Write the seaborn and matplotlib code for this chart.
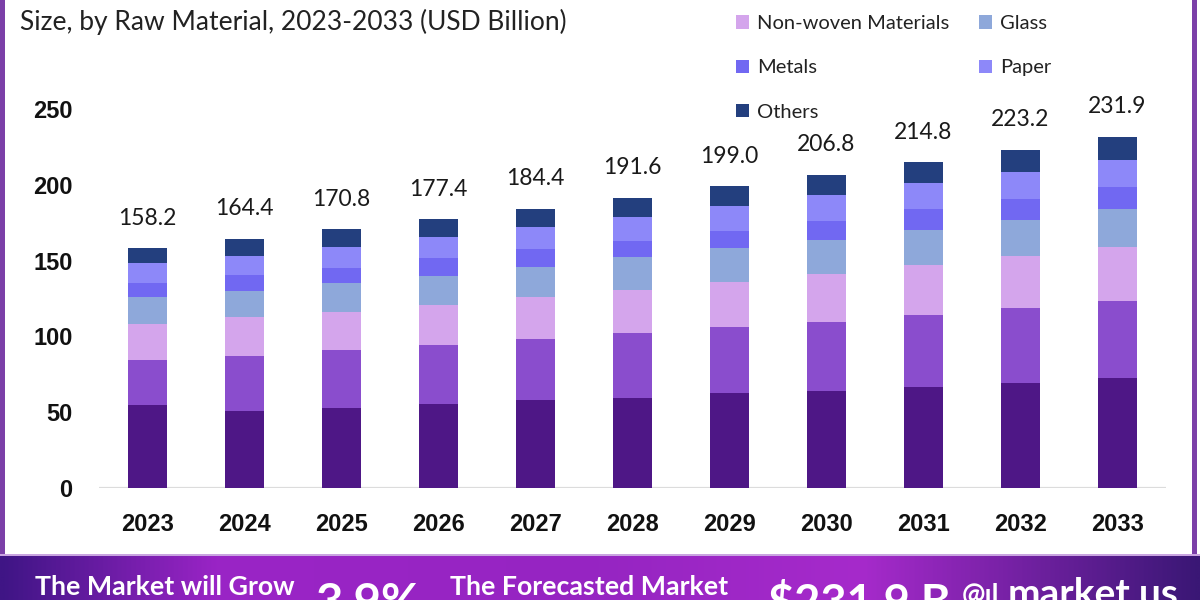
import numpy as np
import pandas as pd
import matplotlib
matplotlib.use("Agg")
import matplotlib.pyplot as plt
import seaborn as sns
from matplotlib.patches import Rectangle
from matplotlib.colors import LinearSegmentedColormap

# ---------------- data ----------------
years = ["2023", "2024", "2025", "2026", "2027", "2028", "2029", "2030", "2031", "2032", "2033"]
totals = [158.2, 164.4, 170.8, 177.4, 184.4, 191.6, 199.0, 206.8, 214.8, 223.2, 231.9]

plastics = [54.8, 51.0, 53.0, 55.2, 58.1, 59.6, 62.5, 64.2, 66.9, 69.5, 72.8]
paperboard = [29.7, 36.3, 38.1, 39.2, 40.1, 42.5, 43.6, 45.6, 47.3, 49.5, 50.6]
nonwoven = [23.8, 25.4, 25.3, 26.4, 28.1, 28.6, 30.1, 31.5, 33.0, 34.1, 35.5]
glass = [18.0, 17.3, 18.7, 19.3, 19.8, 21.6, 22.0, 22.4, 23.1, 23.8, 25.1]
metals = [8.8, 10.6, 10.3, 11.5, 11.5, 10.9, 11.6, 12.7, 13.7, 13.7, 14.5]
paper = [13.2, 12.7, 13.9, 14.3, 14.9, 15.9, 16.3, 17.0, 17.1, 18.2, 18.0]
others = [9.9, 11.1, 11.5, 11.5, 11.9, 12.5, 12.9, 13.4, 13.7, 14.4, 15.4]

series_names = ["Plastics", "Paperboard", "Non-woven Materials", "Glass", "Metals", "Paper", "Others"]
series_values = [plastics, paperboard, nonwoven, glass, metals, paper, others]
series_colors = ["#4e1786", "#8a4dcd", "#d4a5ec", "#8ea8da", "#7168f2", "#8d88f9", "#233f7e"]

title_text = "Size, by Raw Material, 2023-2033 (USD Billion)"
yticks = [0, 50, 100, 150, 200, 250]

# ---------------- style ----------------
sns.set_style("white")
plt.rcParams["font.family"] = ["Lato", "DejaVu Sans"]

W, H = 1200, 600
fig = plt.figure(figsize=(12, 6), dpi=100)
fig.patch.set_facecolor("white")

ax = fig.add_axes([99 / W, 112 / H, 1067 / W, 394 / H])
ax.set_facecolor("white")

bottom = np.zeros(len(years))
handles = {}
for name, vals, col in zip(series_names, series_values, series_colors):
    sns.barplot(x=years, y=vals, bottom=bottom.copy(), color=col, width=0.4,
                saturation=1, errorbar=None, ax=ax, label=name, linewidth=0)
    handles[name] = ax.containers[-1]
    bottom = bottom + np.array(vals)
if ax.get_legend() is not None:
    ax.get_legend().remove()

ax.set_xlim(-0.5, len(years) - 0.5)
ax.set_ylim(0, 260)
ax.set_yticks(yticks)
ax.set_yticklabels([str(t) for t in yticks])
for s in ax.spines.values():
    s.set_visible(False)
ax.axhline(0, color="#dcdcdc", lw=1.6, zorder=0.5)
ax.tick_params(axis="both", length=0)
ax.tick_params(axis="y", pad=19)
ax.tick_params(axis="x", pad=18)
for lab in ax.get_yticklabels() + ax.get_xticklabels():
    lab.set_fontfamily(["Liberation Sans", "DejaVu Sans"])
    lab.set_fontweight("bold")
    lab.set_fontsize(17)
    lab.set_color("#111111")
ax.set_xlabel("")
ax.set_ylabel("")
ax.grid(False)

for i, t in enumerate(totals):
    ax.annotate(f"{t:.1f}", xy=(i, t), xytext=(0, 14), textcoords="offset points",
                ha="center", va="bottom", fontsize=16.5, color="#1a1a1a")

# title (cropped header)
fig.text(20 / W, 1 - 22 / H, title_text, ha="left", va="center", fontsize=19, color="#222222")

# legend (visible entries)
leg_order = ["Non-woven Materials", "Metals", "Others", "Glass", "Paper"]
leg = fig.legend([handles[n] for n in leg_order], leg_order, loc="upper left",
                 bbox_to_anchor=(736 / W, 1 - 15 / H), ncol=2, frameon=False,
                 fontsize=14.5, handlelength=0.65, handleheight=0.65, handletextpad=0.4,
                 labelspacing=1.36, columnspacing=1.45, borderpad=0, borderaxespad=0)
for t in leg.get_texts():
    t.set_color("#222222")

# frame borders
fig.add_artist(Rectangle((0, 45 / H), 5 / W, 1 - 45 / H, transform=fig.transFigure,
                         facecolor="#7b3fa8", edgecolor="none"))
fig.add_artist(Rectangle((1192 / W, 45 / H), 5 / W, 1 - 45 / H, transform=fig.transFigure,
                         facecolor="#7b3fa8", edgecolor="none"))

# bottom banner
bax = fig.add_axes([0, 0, 1, 45 / H])
cmap = LinearSegmentedColormap.from_list("ban", [(0, "#3f1585"), (0.18, "#9a24c6"),
                                                  (0.5, "#9625c2"), (0.72, "#a62acb"),
                                                  (1.0, "#3a1775")])
grad = np.linspace(0, 1, 512)[None, :]
bax.imshow(grad, aspect="auto", cmap=cmap, extent=(0, 1, 0, 1))
bax.set_axis_off()
fig.add_artist(Rectangle((0, 44 / H), 1, 2 / H, transform=fig.transFigure,
                         facecolor="#c9a4e0", edgecolor="none"))

def btxt(x, y, s, size, **kw):
    fig.text(x / W, 1 - y / H, s, ha="left", va="baseline", fontsize=size,
             color="white", fontweight="bold", **kw)

btxt(35, 595, "The Market will Grow", 19.3)
btxt(315, 618, "3.9%", 34)
btxt(450, 595, "The Forecasted Market", 19.3)
btxt(768, 617, "$231.9 B", 32.5)
btxt(962, 604, "@ıl", 20)
btxt(1008, 606, "market.us", 28)

fig.savefig("out.png", dpi=100)
